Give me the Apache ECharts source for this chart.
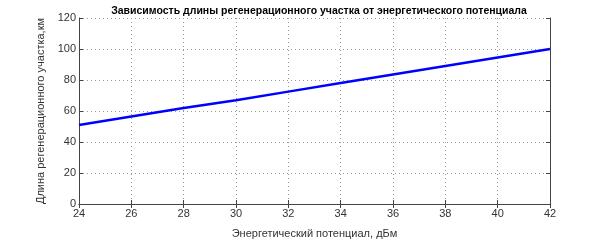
<!DOCTYPE html>
<html><head><meta charset="utf-8">
<script src="https://cdn.jsdelivr.net/npm/echarts@6/dist/echarts.min.js"></script>
<style>html,body{margin:0;padding:0;background:#fff}#c{width:608px;height:244px}</style>
</head><body><div id="c"></div>
<script>
const titleText = "Зависимость длины регенерационного участка от энергетического потенциала";
const xName = "Энергетический потенциал, дБм";
const yName = "Длина регенерационного участка,км";
const xValues = [24, 26, 28, 30, 32, 34, 36, 38, 40, 42];
const yValues = [51, 56.5, 62, 67, 72.5, 78, 83.5, 89, 94.5, 100];

const chart = echarts.init(document.getElementById('c'), null, {renderer: 'canvas'});
const font = 'Liberation Sans, Arial, sans-serif';
const axisCol = '#444';
const labelStyle = {color: '#333', fontFamily: font, fontSize: 11};
chart.setOption({
  animation: false,
  backgroundColor: '#fff',
  title: {text: titleText, left: 314, textAlign: 'center', top: 1,
    textStyle: {fontFamily: font, fontSize: 10.5, fontWeight: 'bold', color: '#000'}},
  grid: {left: 79, right: 58, top: 18, bottom: 28},
  xAxis: [{
    type: 'value', min: 24, max: 42, interval: 2,
    name: xName, nameLocation: 'middle', nameGap: 24,
    nameTextStyle: {color: '#333', fontFamily: font, fontSize: 11},
    axisLine: {show: true, onZero: false, lineStyle: {color: axisCol, width: 1}},
    axisTick: {show: true, inside: true, length: 4, lineStyle: {color: axisCol}},
    axisLabel: Object.assign({margin: 4}, labelStyle),
    splitLine: {show: true, lineStyle: {color: '#999', type: [1, 3], width: 1}}
  }, {
    type: 'value', position: 'top', min: 24, max: 42, interval: 2,
    axisLine: {show: true, lineStyle: {color: axisCol, width: 1}},
    axisTick: {show: true, inside: true, length: 4, lineStyle: {color: axisCol}},
    axisLabel: {show: false}, splitLine: {show: false}
  }],
  yAxis: [{
    type: 'value', min: 0, max: 120, interval: 20,
    name: yName, nameLocation: 'middle', nameGap: 20, nameRotate: 90,
    nameTextStyle: {color: '#333', fontFamily: font, fontSize: 11},
    axisLine: {show: true, onZero: false, lineStyle: {color: axisCol, width: 1}},
    axisTick: {show: true, inside: true, length: 4, lineStyle: {color: axisCol}},
    axisLabel: Object.assign({margin: 3}, labelStyle),
    splitLine: {show: true, lineStyle: {color: '#999', type: [1, 3], width: 1}}
  }, {
    type: 'value', position: 'right', min: 0, max: 120, interval: 20,
    axisLine: {show: true, lineStyle: {color: axisCol, width: 1}},
    axisTick: {show: true, inside: true, length: 4, lineStyle: {color: axisCol}},
    axisLabel: {show: false}, splitLine: {show: false}
  }],
  series: [{
    type: 'line', xAxisIndex: 0, yAxisIndex: 0,
    data: xValues.map((x, i) => [x, yValues[i]]),
    showSymbol: false, symbol: 'none',
    lineStyle: {color: '#0000ff', width: 2.5}
  }]
});
</script></body></html>
